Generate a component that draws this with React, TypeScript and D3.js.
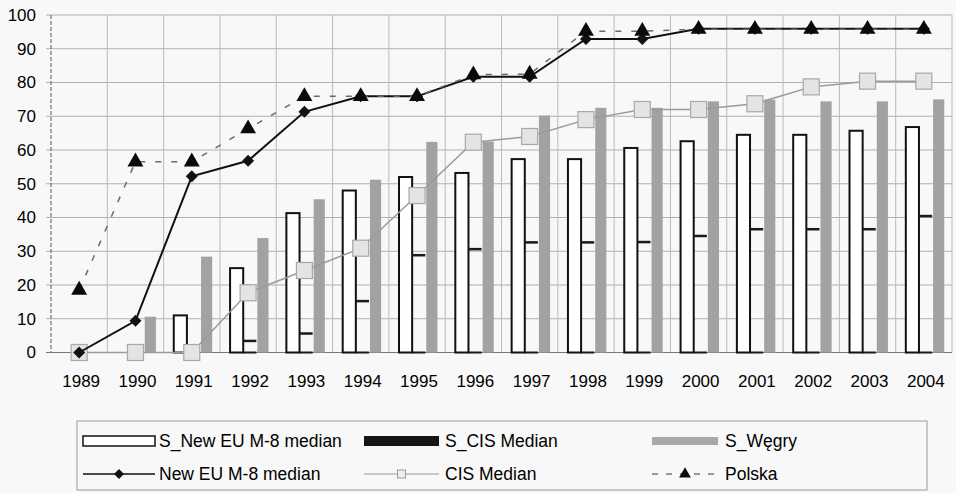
import * as d3 from "d3";
import React, { useEffect, useRef } from "react";

const years = [
  "1989", "1990", "1991", "1992", "1993", "1994", "1995", "1996",
  "1997", "1998", "1999", "2000", "2001", "2002", "2003", "2004",
];

// bars
const sNewEU = [0, 0, 11, 25, 41.3, 48, 52, 53.2, 57.3, 57.3, 60.6, 62.6, 64.5, 64.5, 65.7, 66.8];
const sCIS = [0, 0, 0, 3.5, 5.7, 15.3, 28.9, 30.7, 32.7, 32.7, 32.8, 34.6, 36.6, 36.6, 36.6, 40.5];
const sWegry = [0, 10.6, 28.4, 33.9, 45.4, 51.2, 62.4, 62.5, 70.2, 72.5, 72.5, 74.4, 74.9, 74.4, 74.4, 75];

// lines
const newEU = [0, 9.4, 52.2, 56.8, 71.3, 75.9, 75.9, 81.7, 81.7, 92.9, 92.9, 95.9, 95.9, 95.9, 95.9, 95.9];
const cisMedian = [0, 0, 0, 17.7, 24.3, 30.9, 46.5, 62.3, 64, 69, 72, 72, 73.7, 78.7, 80.4, 80.4];
const polska = [18.5, 56.5, 56.5, 66.3, 75.9, 75.9, 75.9, 82.3, 82.5, 95.2, 95.2, 95.8, 95.8, 95.8, 95.8, 95.8];

const yTicks = [0, 10, 20, 30, 40, 50, 60, 70, 80, 90, 100];

const FONT = "'Liberation Sans', Arial, sans-serif";
const BG = "#f8f8f8";

// square turned 45 degrees
const diamondPath = (r: number) => `M0,${-r}L${r},0L0,${r}L${-r},0Z`;

const Chart = () => {
  const svgRef = useRef<SVGSVGElement>(null);

  useEffect(() => {
    const width = 956;
    const height = 493;

    const svg = d3.select(svgRef.current);
    svg.selectAll("*").remove();

    svg.append("rect").attr("width", width).attr("height", height).attr("fill", BG);

    const x = d3.scaleBand().domain(years).range([51, 952]).padding(0);
    const bw = x.bandwidth();
    const x1 = d3
      .scaleBand()
      .domain(["neu", "cis", "hu"])
      .range([bw * 0.18, bw * 0.88])
      .padding(0);

    const y = d3.scaleLinear().domain([0, 100]).range([352.5, 15]);

    // Grid
    const grid = svg.append("g");
    grid
      .selectAll("line.h")
      .data(yTicks)
      .enter()
      .append("line")
      .attr("x1", 46)
      .attr("x2", 952)
      .attr("y1", (d) => y(d))
      .attr("y2", (d) => y(d))
      .attr("stroke", "#b0b0b0")
      .attr("stroke-width", 1);
    grid
      .selectAll("line.v")
      .data(years)
      .enter()
      .append("line")
      .attr("x1", (d) => x(d)! + bw)
      .attr("x2", (d) => x(d)! + bw)
      .attr("y1", y(100))
      .attr("y2", y(0))
      .attr("stroke", "#bababa")
      .attr("stroke-width", 1);

    // axis line
    svg
      .append("line")
      .attr("x1", 51)
      .attr("x2", 51)
      .attr("y1", y(100))
      .attr("y2", y(0))
      .attr("stroke", "#555")
      .attr("stroke-dasharray", "4,2");
    svg
      .append("line")
      .attr("x1", 46)
      .attr("x2", 952)
      .attr("y1", y(0))
      .attr("y2", y(0))
      .attr("stroke", "#777");

    // Y labels
    svg
      .append("g")
      .selectAll("text")
      .data(yTicks)
      .enter()
      .append("text")
      .attr("x", 36)
      .attr("y", (d) => y(d))
      .attr("dy", "0.35em")
      .attr("text-anchor", "end")
      .attr("font-family", FONT)
      .attr("font-size", 17)
      .attr("fill", "#000")
      .text((d) => d);

    // X labels
    svg
      .append("g")
      .selectAll("text")
      .data(years)
      .enter()
      .append("text")
      .attr("x", (d) => x(d)! + bw / 2 + 2)
      .attr("y", 381)
      .attr("dy", "0.35em")
      .attr("text-anchor", "middle")
      .attr("font-family", FONT)
      .attr("font-size", 17)
      .attr("fill", "#000")
      .text((d) => d);

    // Bars: S_Węgry
    svg
      .append("g")
      .selectAll("rect")
      .data(sWegry)
      .enter()
      .append("rect")
      .attr("x", (d, i) => x(years[i])! + x1("hu")! + 1)
      .attr("y", (d) => y(d))
      .attr("width", x1.bandwidth() - 2)
      .attr("height", (d) => y(0) - y(d))
      .attr("fill", "#a2a2a2");

    // Bars: S_New EU
    const neuG = svg.append("g");
    sNewEU.forEach((v, i) => {
      if (v <= 0) return;
      neuG
        .append("rect")
        .attr("x", x(years[i])! + x1("neu")!)
        .attr("y", y(v))
        .attr("width", x1.bandwidth())
        .attr("height", y(0) - y(v))
        .attr("fill", "#fff")
        .attr("stroke", "#111")
        .attr("stroke-width", 2);
    });

    // Bars: S_CIS (only the top edge shows through)
    const cisG = svg.append("g");
    sCIS.forEach((v, i) => {
      if (v <= 0) return;
      cisG
        .append("rect")
        .attr("x", x(years[i])! + x1("cis")!)
        .attr("y", y(v) - 1)
        .attr("width", x1.bandwidth())
        .attr("height", 2.5)
        .attr("fill", "#1a1a1a");
      cisG
        .append("line")
        .attr("x1", x(years[i])! + x1("cis")!)
        .attr("x2", x(years[i])! + x1("cis")! + x1.bandwidth())
        .attr("y1", y(0))
        .attr("y2", y(0))
        .attr("stroke", "#1a1a1a")
        .attr("stroke-width", 2);
    });

    const cx = (i: number) => x(years[i])! + bw / 2;
    const line = d3
      .line<number>()
      .x((d, i) => cx(i))
      .y((d) => y(d));

    // CIS Median
    svg
      .append("path")
      .attr("d", line(cisMedian))
      .attr("fill", "none")
      .attr("stroke", "#9a9a9a")
      .attr("stroke-width", 1.5);
    svg
      .append("g")
      .selectAll("rect")
      .data(cisMedian)
      .enter()
      .append("rect")
      .attr("x", (d, i) => cx(i) - 8)
      .attr("y", (d) => y(d) - 8)
      .attr("width", 16)
      .attr("height", 16)
      .attr("fill", "#e4e4e4")
      .attr("stroke", "#a8a8a8")
      .attr("stroke-width", 1.2);

    // New EU M-8 median
    svg
      .append("path")
      .attr("d", line(newEU))
      .attr("fill", "none")
      .attr("stroke", "#111")
      .attr("stroke-width", 2);
    svg
      .append("g")
      .selectAll("path")
      .data(newEU)
      .enter()
      .append("path")
      .attr("d", diamondPath(6))
      .attr("transform", (d, i) => `translate(${cx(i)},${y(d)})`)
      .attr("fill", "#111");

    // Polska
    svg
      .append("path")
      .attr("d", line(polska))
      .attr("fill", "none")
      .attr("stroke", "#6a6a6a")
      .attr("stroke-width", 1.5)
      .attr("stroke-dasharray", "6,10");
    const tri = d3.symbol().type(d3.symbolTriangle).size(110);
    svg
      .append("g")
      .selectAll("path")
      .data(polska)
      .enter()
      .append("path")
      .attr("d", tri)
      .attr("transform", (d, i) => `translate(${cx(i)},${y(d)})`)
      .attr("fill", "#0a0a0a");

    // Legend
    const lg = svg.append("g");
    lg.append("rect")
      .attr("x", 77)
      .attr("y", 421)
      .attr("width", 850)
      .attr("height", 69)
      .attr("fill", BG)
      .attr("stroke", "#9a9a9a")
      .attr("stroke-width", 1);

    const r1 = 441;
    const r2 = 474;
    const cols = [83, 364, 652];
    const sw = [72, 75, 66];

    // S_New EU
    lg.append("rect").attr("x", cols[0]).attr("y", r1 - 5).attr("width", sw[0]).attr("height", 10)
      .attr("fill", "#fff").attr("stroke", "#111").attr("stroke-width", 1.5);
    // S_CIS
    lg.append("rect").attr("x", cols[1]).attr("y", r1 - 5).attr("width", sw[1]).attr("height", 10)
      .attr("fill", "#151515");
    // S_Węgry
    lg.append("rect").attr("x", cols[2]).attr("y", r1 - 4).attr("width", sw[2]).attr("height", 8)
      .attr("fill", "#a8a8a8");

    // New EU line
    lg.append("line").attr("x1", cols[0]).attr("x2", cols[0] + sw[0]).attr("y1", r2).attr("y2", r2)
      .attr("stroke", "#111").attr("stroke-width", 1.5);
    lg.append("path").attr("d", diamondPath(5))
      .attr("transform", `translate(${cols[0] + sw[0] / 2},${r2})`).attr("fill", "#111");
    // CIS line
    lg.append("line").attr("x1", cols[1]).attr("x2", cols[1] + sw[1]).attr("y1", r2).attr("y2", r2)
      .attr("stroke", "#9a9a9a").attr("stroke-width", 1.2);
    lg.append("rect").attr("x", cols[1] + sw[1] / 2 - 4).attr("y", r2 - 4).attr("width", 8).attr("height", 8)
      .attr("fill", "#eee").attr("stroke", "#999");
    // Polska
    lg.append("line").attr("x1", cols[2]).attr("x2", cols[2] + sw[2]).attr("y1", r2).attr("y2", r2)
      .attr("stroke", "#777").attr("stroke-width", 1.3).attr("stroke-dasharray", "6,8");
    lg.append("path").attr("d", d3.symbol().type(d3.symbolTriangle).size(60)())
      .attr("transform", `translate(${cols[2] + sw[2] / 2},${r2})`).attr("fill", "#0a0a0a");

    const labels = [
      ["S_New EU M-8 median", cols[0] + sw[0] + 4, r1],
      ["S_CIS Median", cols[1] + sw[1] + 6, r1],
      ["S_Węgry", cols[2] + sw[2] + 7, r1],
      ["New EU M-8 median", cols[0] + sw[0] + 4, r2],
      ["CIS Median", cols[1] + sw[1] + 6, r2],
      ["Polska", cols[2] + sw[2] + 7, r2],
    ];
    lg.selectAll("text.lbl")
      .data(labels)
      .enter()
      .append("text")
      .attr("x", (d) => d[1] as number)
      .attr("y", (d) => d[2] as number)
      .attr("dy", "0.35em")
      .attr("font-family", FONT)
      .attr("font-size", 17.5)
      .attr("fill", "#000")
      .text((d) => d[0] as string);
  }, []);

  return (
    <svg
      ref={svgRef}
      width={956}
      height={493}
      viewBox="0 0 956 493"
      style={{ display: "block" }}
    />
  );
};

export default function App() {
  return (
    <div style={{ position: "absolute", left: 0, top: 0 }}>
      <Chart />
    </div>
  );
}
